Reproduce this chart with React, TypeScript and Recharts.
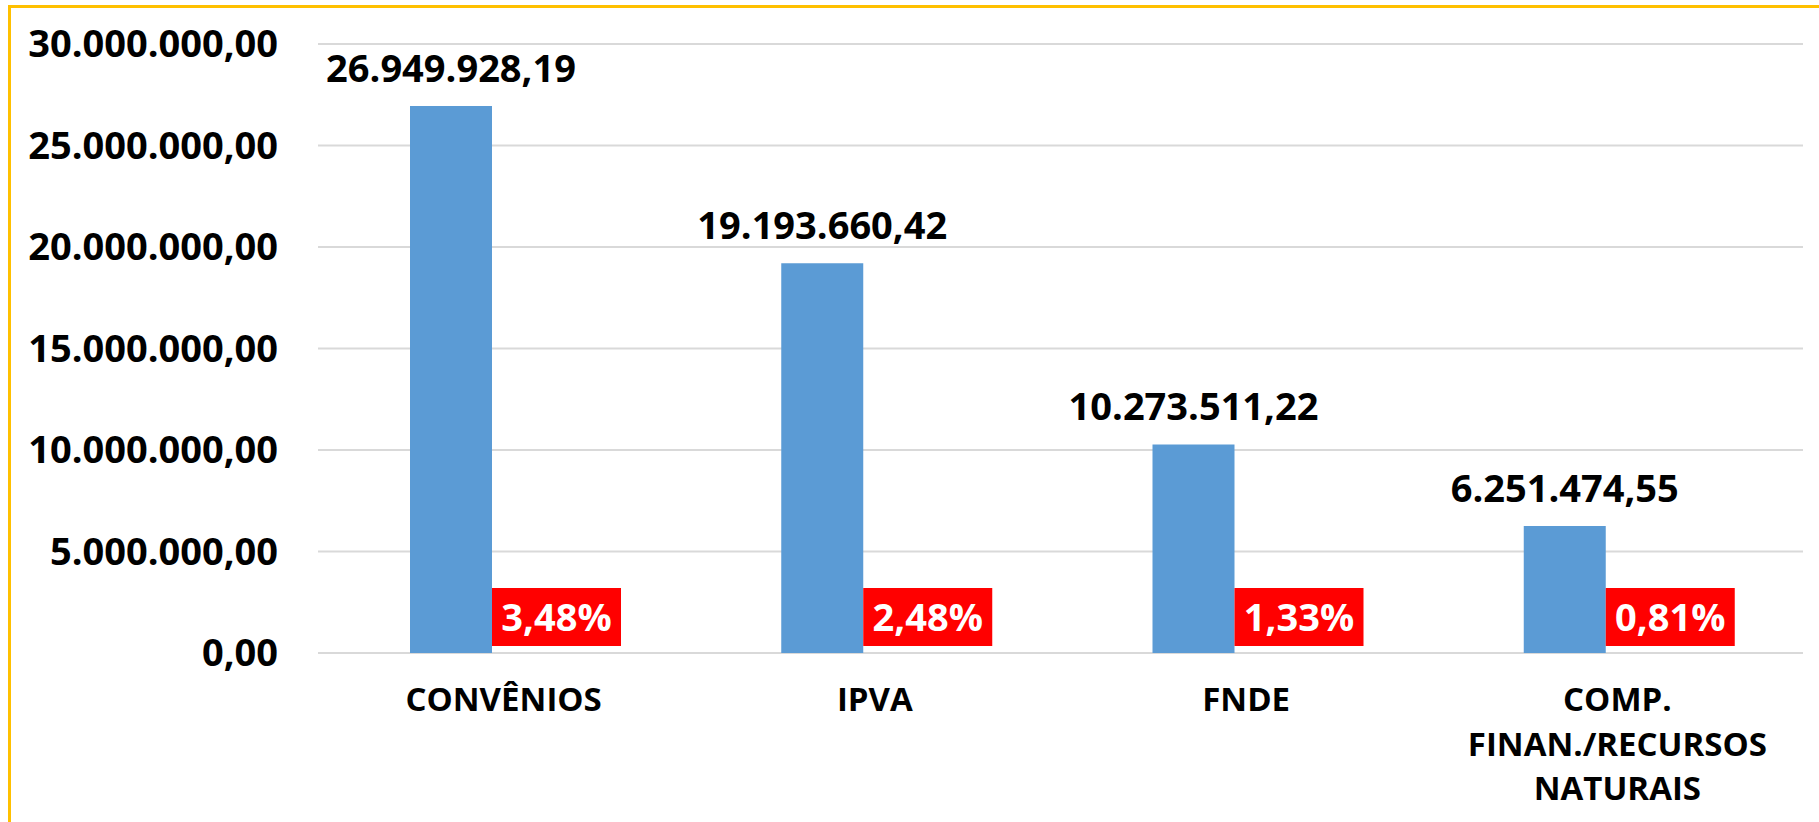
import { Bar, BarChart, CartesianGrid, LabelList, XAxis, YAxis } from 'recharts';

const categorias = ['CONVÊNIOS', 'IPVA', 'FNDE', 'COMP.\nFINAN./RECURSOS\nNATURAIS'];
const valores = [26949928.19, 19193660.42, 10273511.22, 6251474.55];
const percentuais = [3.48, 2.48, 1.33, 0.81];
const yTicks = [0, 5000000, 10000000, 15000000, 20000000, 25000000, 30000000];

const FONT = '"Open Sans", "Noto Sans", sans-serif';

const data = categorias.map((name, i) => ({
    name,
    valor: valores[i],
    pct: percentuais[i],
}));

// formato pt-BR: 1.234.567,89
const formatBR = (v: number) => {
    const [int, dec] = v.toFixed(2).split('.');
    return int.replace(/\B(?=(\d{3})+(?!\d))/g, '.') + ',' + dec;
};

const formatPct = (v: number) => v.toFixed(2).replace('.', ',') + '%';

const ValorLabel = (props: any) => {
    const { x, y, width, value } = props;
    return (
        <text
            x={x + width / 2}
            y={y - 24}
            textAnchor="middle"
            fill="#000"
            fontSize={38}
            fontWeight={700}
            fontFamily={FONT}
        >
            {formatBR(value)}
        </text>
    );
};

const PctLabel = (props: any) => {
    const { x, y, height, value } = props;
    const base = y + height;
    const boxW = 129;
    const boxH = 58;
    return (
        <g>
            <rect x={x} y={base - 7 - boxH} width={boxW} height={boxH} fill="#FF0000" />
            <text
                x={x + boxW / 2}
                y={base - 22}
                textAnchor="middle"
                fill="#fff"
                fontSize={38}
                fontWeight={700}
                fontFamily={FONT}
            >
                {formatPct(value)}
            </text>
        </g>
    );
};

const CategoriaTick = (props: any) => {
    const { x, y, payload } = props;
    const lines = String(payload.value).split('\n');
    return (
        <g>
            {lines.map((line, i) => (
                <text
                    key={i}
                    x={x + 12}
                    y={y + 58 + i * 44.5}
                    textAnchor="middle"
                    fill="#000"
                    fontSize={33}
                    fontWeight={700}
                    fontFamily={FONT}
                >
                    {line}
                </text>
            ))}
        </g>
    );
};

export default function App() {
    return (
        <div style={{ position: 'relative', width: 1819, height: 822, overflow: 'hidden', background: '#fff' }}>
            <style>{'body{margin:0}'}</style>
            <div
                style={{
                    position: 'absolute',
                    left: 8,
                    top: 5,
                    right: -10,
                    bottom: -10,
                    borderLeft: '3px solid #FFC000',
                    borderTop: '3px solid #FFC000',
                }}
            />
            <div style={{ position: 'absolute', left: 0, top: 0 }}>
                <BarChart
                    width={1819}
                    height={822}
                    data={data}
                    margin={{ top: 44, right: 16, bottom: 0, left: 0 }}
                    barGap={0}
                    barSize={82}
                >
                    <CartesianGrid vertical={false} stroke="#D9D9D9" strokeWidth={2} />
                    <XAxis
                        dataKey="name"
                        axisLine={false}
                        tickLine={false}
                        tickSize={0}
                        tickMargin={0}
                        interval={0}
                        height={169}
                        padding={{ left: -12, right: 12 }}
                        tick={<CategoriaTick />}
                    />
                    <YAxis
                        width={318}
                        domain={[0, 30000000]}
                        ticks={yTicks}
                        axisLine={false}
                        tickLine={false}
                        tickSize={0}
                        tickMargin={40}
                        tickFormatter={formatBR}
                        tick={{ fill: '#000', fontSize: 38, fontWeight: 700, fontFamily: FONT }}
                    />
                    <Bar dataKey="valor" fill="#5B9BD5" isAnimationActive={false}>
                        <LabelList dataKey="valor" content={<ValorLabel />} />
                    </Bar>
                    <Bar dataKey="pct" fill="#FF0000" isAnimationActive={false}>
                        <LabelList dataKey="pct" content={<PctLabel />} />
                    </Bar>
                </BarChart>
            </div>
        </div>
    );
}
